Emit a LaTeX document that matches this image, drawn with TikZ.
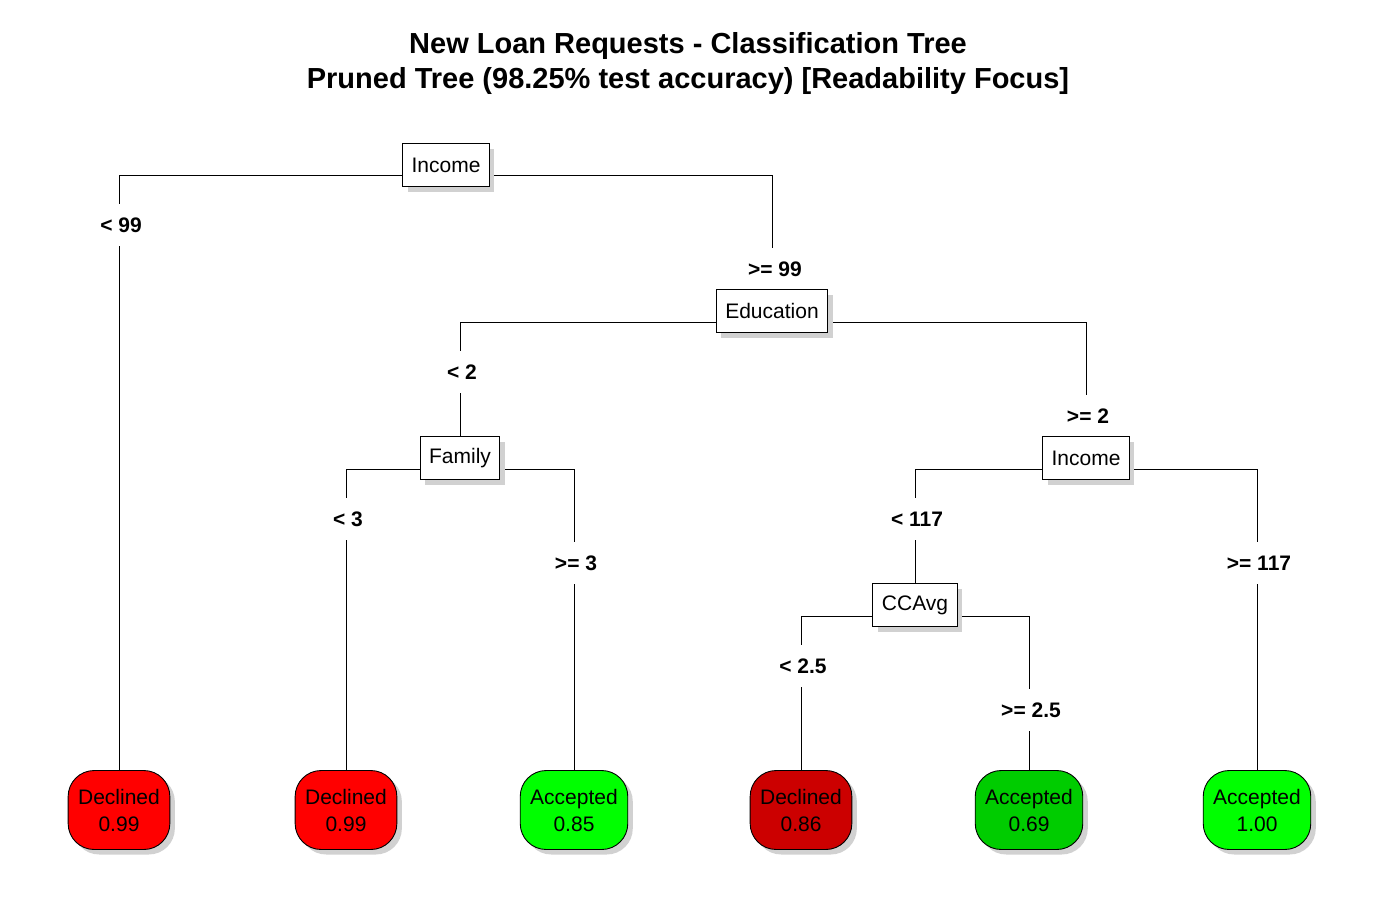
\documentclass[tikz,border=0pt]{standalone}
\usepackage{fontspec}
\setmainfont{Liberation Sans}
\usetikzlibrary{shadows}
\pgfdeclarelayer{branchlayer}
\pgfdeclarelayer{labellayer}
\pgfsetlayers{branchlayer,labellayer,main}
\begin{document}
\begin{tikzpicture}[x=1pt,y=-1pt,
  split/.style={draw=black, line width=0.9pt, fill=white, font=\fontsize{21}{24}\selectfont,
    inner xsep=9pt, minimum height=43pt,
    drop shadow={shadow xshift=5pt, shadow yshift=-5pt, fill=black!18, opacity=1}},
  leaf/.style={draw=black, line width=0.9pt, rounded corners=26pt, align=center,
    font=\fontsize{21}{27}\selectfont, inner xsep=10pt, minimum height=79pt, minimum width=101pt,
    drop shadow={shadow xshift=5pt, shadow yshift=-5pt, fill=black!18, opacity=1}},
  elabel/.style={fill=white, inner xsep=3pt, inner ysep=14pt, font=\fontsize{21}{24}\selectfont\bfseries},
  branch/.style={line width=0.9pt}
]
\useasboundingbox (0,0) rectangle (1378,900);
% title
\node[font=\fontsize{29}{35}\selectfont\bfseries, align=center] (title) at (688,63)
  {New Loan Requests - Classification Tree\\Pruned Tree (98.25\% test accuracy) [Readability Focus]};

% split nodes
\node[split] (n1) at (446,165) {Income};
\node[split] (n2) at (772,311) {Education};
\node[split] (n3) at (460,458) {Family};
\node[split] (n4) at (1086,458) {Income};
\node[split] (n5) at (915,605) {CCAvg};

% leaves
\node[leaf, fill={rgb,255:red,255;green,0;blue,0}] (l1) at (119,810) {Declined\\0.99};
\node[leaf, fill={rgb,255:red,255;green,0;blue,0}] (l2) at (346,810) {Declined\\0.99};
\node[leaf, fill={rgb,255:red,0;green,255;blue,0}] (l3) at (574,810) {Accepted\\0.85};
\node[leaf, fill={rgb,255:red,204;green,0;blue,0}] (l4) at (801,810) {Declined\\0.86};
\node[leaf, fill={rgb,255:red,0;green,204;blue,0}] (l5) at (1029,810) {Accepted\\0.69};
\node[leaf, fill={rgb,255:red,0;green,255;blue,0}] (l6) at (1257,810) {Accepted\\1.00};

% branches
\begin{pgfonlayer}{branchlayer}
\draw[branch] (n1.west |- 0,175) -| (l1.north);
\draw[branch] (n1.east |- 0,175) -| (n2.north);
\draw[branch] (n2.west |- 0,322) -| (n3.north);
\draw[branch] (n2.east |- 0,322) -| (n4.north);
\draw[branch] (n3.west |- 0,469) -| (l2.north);
\draw[branch] (n3.east |- 0,469) -| (l3.north);
\draw[branch] (n4.west |- 0,469) -| (n5.north);
\draw[branch] (n4.east |- 0,469) -| (l6.north);
\draw[branch] (n5.west |- 0,616) -| (l4.north);
\draw[branch] (n5.east |- 0,616) -| (l5.north);
\end{pgfonlayer}

% edge labels
\begin{pgfonlayer}{labellayer}
\node[elabel] (e1) at (121,225) {< 99};
\node[elabel] (e2) at (775,269) {>= 99};
\node[elabel] (e3) at (462,372) {< 2};
\node[elabel] (e4) at (1088,416) {>= 2};
\node[elabel] (e5) at (348,519) {< 3};
\node[elabel] (e6) at (576,563) {>= 3};
\node[elabel] (e7) at (917,519) {< 117};
\node[elabel] (e8) at (1259,563) {>= 117};
\node[elabel] (e9) at (803,666) {< 2.5};
\node[elabel] (e10) at (1031,710) {>= 2.5};
\end{pgfonlayer}
\end{tikzpicture}
\end{document}
